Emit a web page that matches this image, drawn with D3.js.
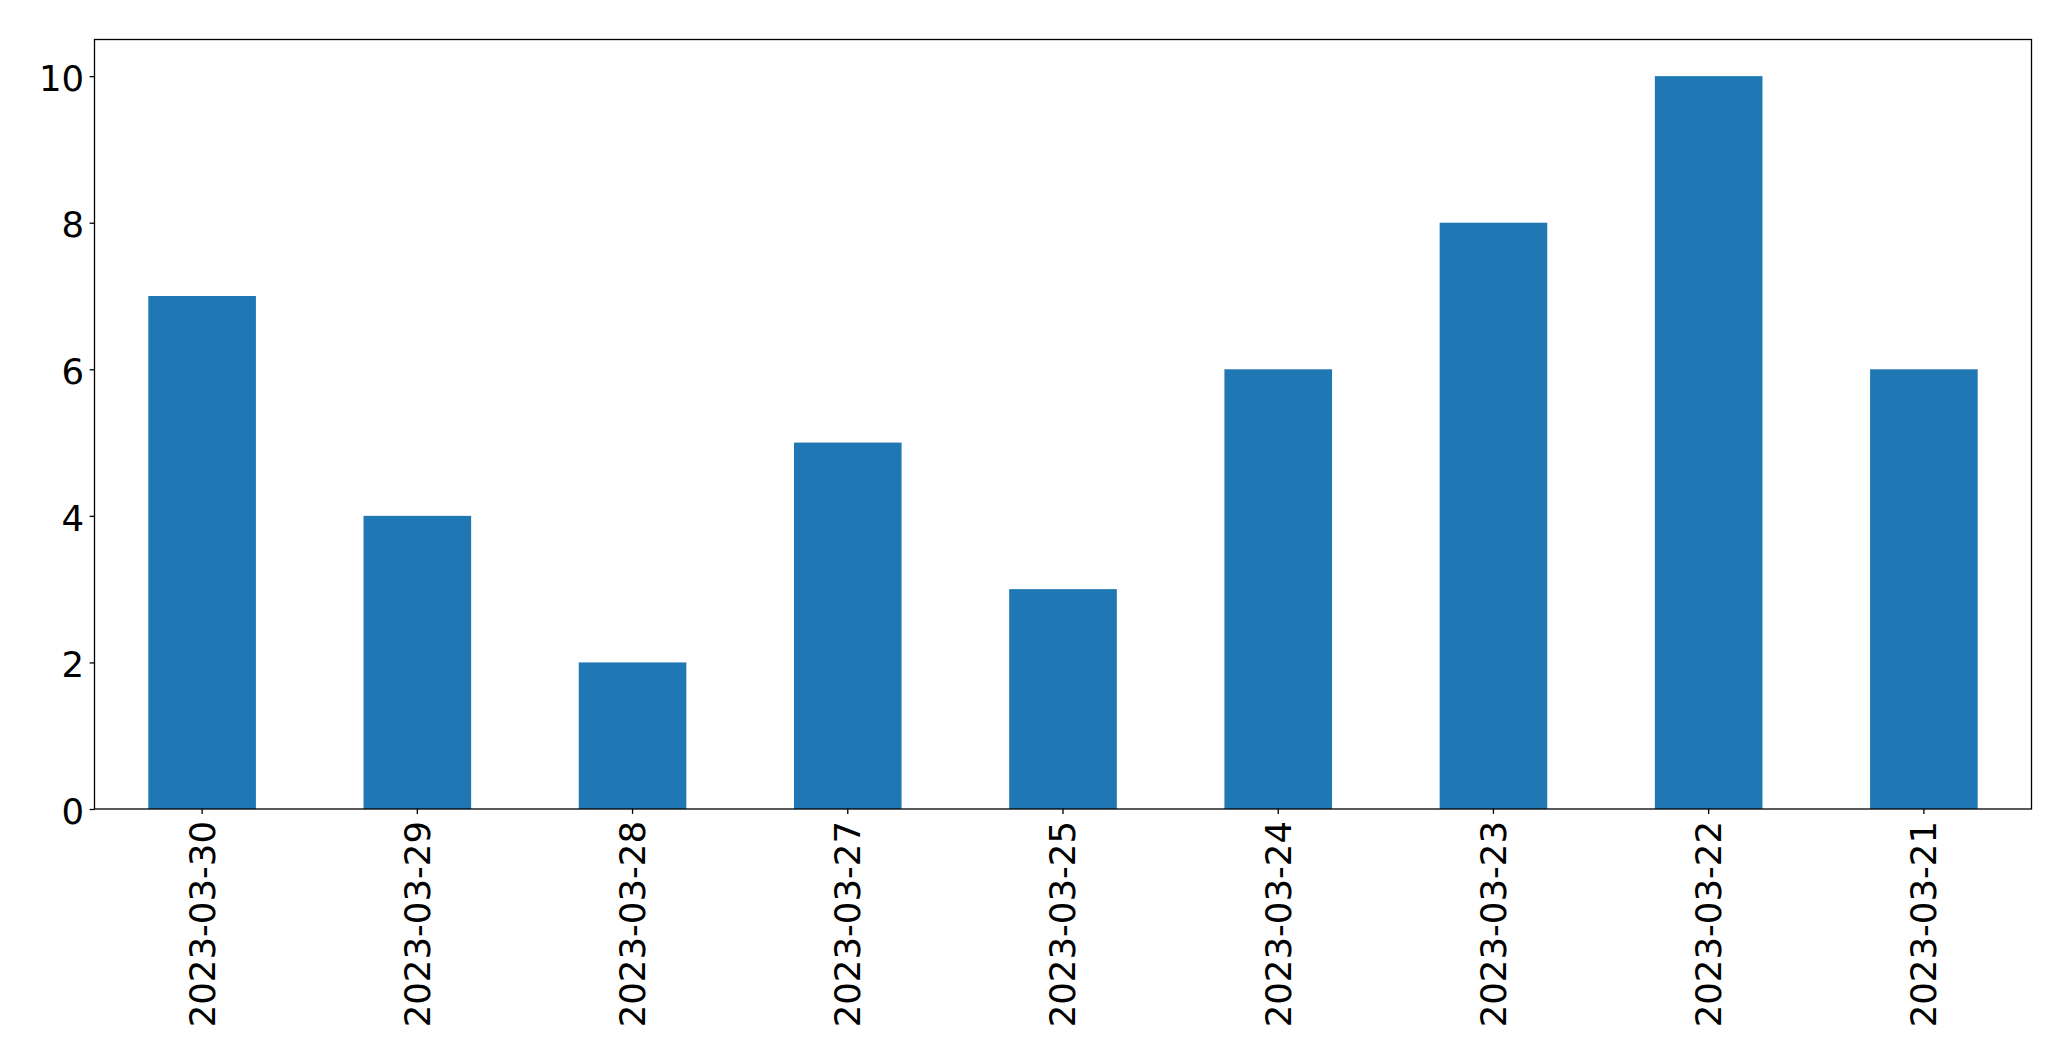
<!DOCTYPE html>
<html><head><meta charset="utf-8">
<script src="https://cdn.jsdelivr.net/npm/d3@7"></script>
<style>body{margin:0;background:#fff;} svg{display:block;}</style>
</head><body>
<svg id="c" width="2071" height="1061"></svg>
<script>
const categories = ["2023-03-30","2023-03-29","2023-03-28","2023-03-27","2023-03-25","2023-03-24","2023-03-23","2023-03-22","2023-03-21"];
const values = [7,4,2,5,3,6,8,10,6];
const yTicks = [0,2,4,6,8,10];

const svg = d3.select("#c");
const m = {left:94.5, right:2031.5, top:39.5, bottom:809};
const x = d3.scaleBand().domain(categories).range([m.left, m.right]).paddingInner(0.5).paddingOuter(0.25);
const y = d3.scaleLinear().domain([0,10.5]).range([m.bottom, m.top]);
const font = "DejaVu Sans";
const fs = 35.5;

svg.append("g").selectAll("rect").data(values).join("rect")
  .attr("x",(d,i)=>x(categories[i]))
  .attr("width",x.bandwidth())
  .attr("y",d=>y(d))
  .attr("height",d=>y(0)-y(d))
  .attr("fill","#1f77b4");

const ya = svg.append("g").attr("transform",`translate(${m.left},0)`)
  .call(d3.axisLeft(y).tickValues(yTicks).tickSize(4.9).tickPadding(5.5).tickFormat(d3.format("d")));
ya.select(".domain").remove();
ya.selectAll("text").attr("font-family",font).attr("font-size",fs).attr("fill","#000").attr("dy","0.40em");
ya.selectAll("line").attr("stroke","#000").attr("stroke-width",1.3);

const xa = svg.append("g").attr("transform",`translate(0,${m.bottom})`)
  .call(d3.axisBottom(x).tickSize(4.9).tickPadding(0));
xa.select(".domain").remove();
xa.selectAll("line").attr("stroke","#000").attr("stroke-width",1.3);
xa.selectAll("text")
  .attr("font-family",font).attr("font-size",fs).attr("fill","#000")
  .attr("text-anchor","end").attr("dy","0.35em").attr("y",0)
  .attr("transform","translate(0,12) rotate(-90)");

svg.append("rect").attr("x",m.left).attr("y",m.top)
  .attr("width",m.right-m.left).attr("height",m.bottom-m.top)
  .attr("fill","none").attr("stroke","#000").attr("stroke-width",1.3);
</script>
</body></html>
